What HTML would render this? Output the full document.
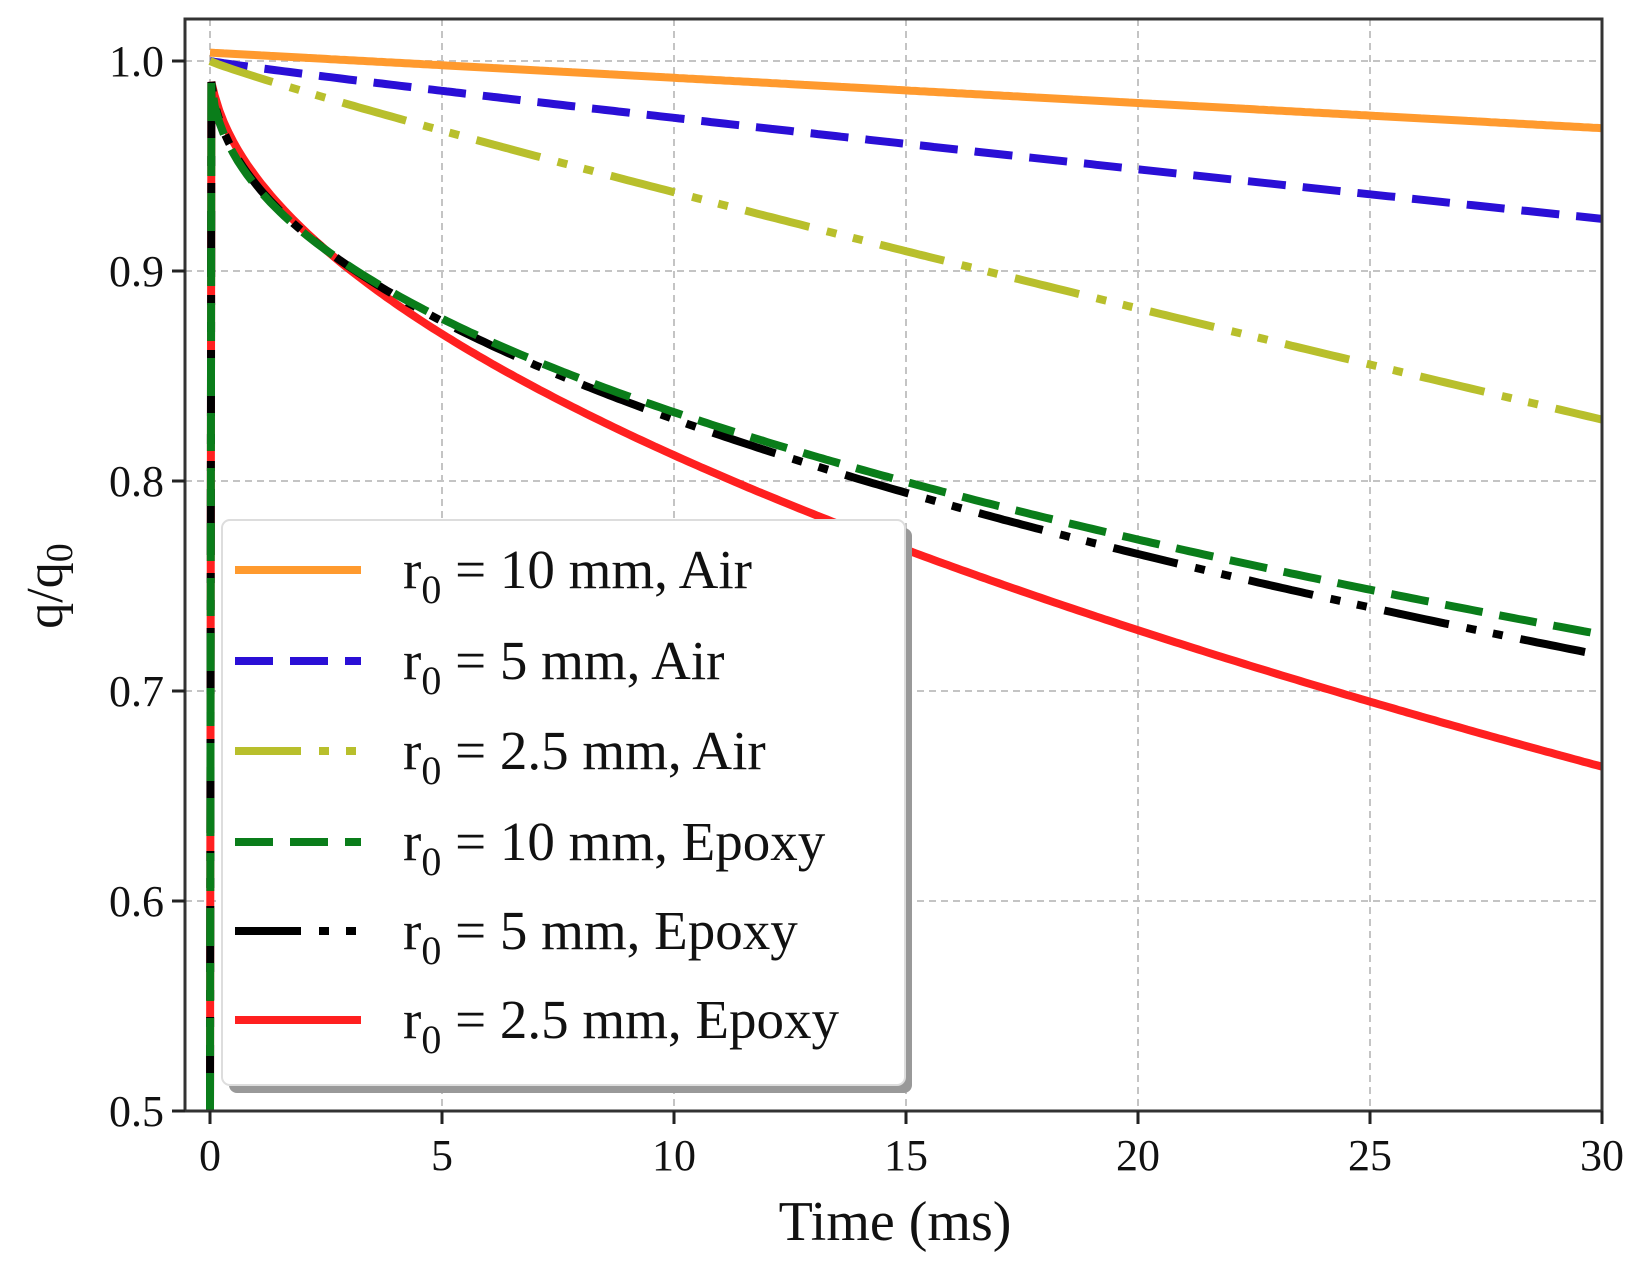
<!DOCTYPE html>
<html><head><meta charset="utf-8"><style>
html,body{margin:0;padding:0;background:#fff;}
svg{display:block;font-family:"Liberation Serif",serif;}
</style></head><body>
<svg id="s" width="1641" height="1276" viewBox="0 0 1641 1276" xmlns="http://www.w3.org/2000/svg">
<g id="grid" stroke="#c4c4c4" stroke-width="2" stroke-dasharray="7,5"></g>
<g id="curves" fill="none" stroke-width="8"></g>
<g id="legend"></g>
<rect x="185" y="19" width="1417" height="1092" fill="none" stroke="#333" stroke-width="3"/>
<g id="ticks" stroke="#222" stroke-width="3"></g>
<g id="labels" font-size="44" fill="#111"></g>
<text x="895" y="1240" font-size="56" text-anchor="middle" fill="#111">Time (ms)</text>
<text transform="translate(62,586) rotate(-90)" font-size="52" text-anchor="middle" fill="#111">q/q<tspan font-size="38" dy="10">0</tspan></text>
</svg>
<script>
var NS="http://www.w3.org/2000/svg";
function X(t){return 210+t*46.4;}
function Y(v){return 61+(1-v)*2100;}
function el(p,tag,a){var e=document.createElementNS(NS,tag);for(var k in a)e.setAttribute(k,a[k]);p.appendChild(e);return e;}
var grid=document.getElementById('grid'),ticks=document.getElementById('ticks'),labels=document.getElementById('labels');
for(var t=0;t<=30;t+=5){var x=X(t);
 if(t<30)el(grid,'line',{x1:x,y1:19,x2:x,y2:1111});
 el(ticks,'line',{x1:x,y1:1111,x2:x,y2:1124});
 el(labels,'text',{x:x,y:1170,'text-anchor':'middle'}).textContent=t;}
for(var i=0;i<=5;i++){var v=0.5+i*0.1,y=Y(v);
 if(i>0)el(grid,'line',{x1:185,y1:y,x2:1602,y2:y});
 el(ticks,'line',{x1:185,y1:y,x2:172,y2:y});
 el(labels,'text',{x:164,y:y+15,'text-anchor':'end'}).textContent=v.toFixed(1);}
var curves=document.getElementById('curves');
function path(f,peak,vert){var d=vert?("M"+X(0).toFixed(1)+","+Y(0.5).toFixed(1)+" L"+X(0.03).toFixed(1)+","+Y(peak).toFixed(1)):("M"+X(0).toFixed(1)+","+Y(peak).toFixed(1));
 for(var k=1;k<=300;k++){var t=k*0.1;d+=" L"+X(t).toFixed(1)+","+Y(f(t)).toFixed(1);}return d;}
var series=[
 {c:"#ff9a2e",f:function(t){return 1.004-0.0012*t;},pk:1.004,da:"",v:0},
 {c:"#2a0fd6",f:function(t){return 1.0-0.00318*Math.pow(t,0.93);},pk:1.0,da:"38,17",v:0},
 {c:"#b8bf2c",f:function(t){return 1.0-0.0076*Math.pow(t,0.915);},pk:1.0,da:"66,18,10,17,10,18",v:0},
 {c:"#ff2020",f:function(t){return 1-0.0554*Math.pow(t,0.53);},pk:0.99,da:"",v:1},
 {c:"#0a7d1a",f:function(t){return 1-0.0598*Math.pow(t,0.4466);},pk:0.99,da:"38,17",v:1},
 {c:"#000",f:function(t){return 1-0.059*Math.pow(t,0.461);},pk:0.99,da:"66,18,10,17,10,18",v:1}
];
[0,1,2,3,5,4].forEach(function(i){var s=series[i];var a={d:path(s.f,s.pk,s.v),stroke:s.c};if(s.da)a['stroke-dasharray']=s.da;el(curves,'path',a);});
var lg=document.getElementById('legend');
el(lg,'rect',{x:229,y:528,width:683,height:565,rx:8,fill:"#999"});
el(lg,'rect',{x:222,y:520,width:683,height:565,rx:8,fill:"#fff",stroke:"#ddd","stroke-width":2});
var items=[[0,"10 mm, Air"],[1,"5 mm, Air"],[2,"2.5 mm, Air"],[4,"10 mm, Epoxy"],[5,"5 mm, Epoxy"],[3,"2.5 mm, Epoxy"]];
var rows=[570,661,751,842,931,1020];
items.forEach(function(it,j){var s=series[it[0]],y=rows[j];
 var a={x1:235,y1:y,x2:361,y2:y,stroke:s.c,'stroke-width':8};if(s.da)a['stroke-dasharray']=s.da;el(lg,'line',a);
 var tx=el(lg,'text',{x:403,y:y+18,'font-size':55,fill:'#111'});
 tx.innerHTML='r<tspan font-size="40" dy="15">0</tspan><tspan dy="-15"> = '+it[1]+'</tspan>';});
</script>
</body></html>
